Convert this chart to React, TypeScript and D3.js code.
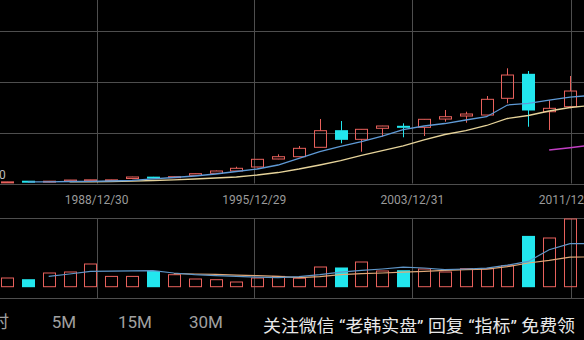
import React from "react";
import * as d3 from "d3";

// ---- data ----
const opens = [25, 45, 42, 45, 50, 60, 98, 125, 114, 161, 201, 246, 325, 482, 527, 712, 1039, 869, 1086, 1125, 1105, 1268, 1328, 1347, 1676, 2148, 1412, 1511];
const highs = [35, 48, 50, 70, 75, 76, 132, 130, 140, 198, 255, 330, 480, 574, 738, 1269, 1229, 1070, 1135, 1184, 1268, 1446, 1412, 1721, 2266, 2213, 1642, 2115];
const lows = [22, 38, 40, 42, 48, 56, 95, 112, 110, 158, 196, 240, 320, 478, 525, 708, 791, 625, 921, 909, 934, 1216, 1196, 1340, 1578, 1117, 1052, 1479];
const closes = [32, 40, 46, 68, 72, 72, 128, 118, 134, 193, 246, 299, 476, 527, 692, 1039, 869, 1066, 1131, 1110, 1263, 1314, 1367, 1656, 2134, 1446, 1479, 1819];
const volumes = [8.7, 7, 13.7, 14.7, 22.7, 10.3, 10.3, 15.3, 12, 7.7, 7, 4.7, 8.7, 10.3, 8.5, 19.7, 18.7, 24.7, 15.7, 16, 17.7, 14.7, 18, 18, 21, 50.3, 48.7, 67.7];

const maFast: (number | null)[] = [null, 30, 33, 39, 43, 49, 63, 89, 118, 148, 187, 236, 285, 364, 492, 626, 728, 826, 934, 1062, 1131, 1180, 1249, 1314, 1544, 1578, 1642, 1701, 1731];
const maSlow: (number | null)[] = [null, null, null, 30, 33, 39, 45, 59, 73, 89, 108, 128, 167, 216, 285, 364, 452, 551, 649, 738, 856, 964, 1042, 1141, 1279, 1338, 1426, 1495, 1538];
const maLong: (number | null)[] = [null, null, null, null, null, null, null, null, null, null, null, null, null, null, null, null, null, null, null, null, null, null, null, null, null, null, 659, 704, 753];

const volMaFast: (number | null)[] = [null, null, 10.3, 12.7, 15.3, 15.5, 15.8, 16, 13.7, 12, 11, 10.3, 9.5, 9, 10, 12, 14.5, 16.3, 17.7, 19.5, 18.7, 17, 17.7, 18.5, 21.5, 25.3, 37, 43, 43];
const volMaSlow: (number | null)[] = [null, null, null, null, null, null, null, null, 13, 12.7, 12.3, 11.5, 11, 10.3, 9, 10, 12, 13, 13.7, 14.5, 15.3, 16.3, 17, 17.5, 20, 23.7, 26.3, 29.5, 29.8];

const priceTicks = [0, 1000, 2000, 3000];
const dateLabels = ["1988/12/30", "1995/12/29", "2003/12/31", "2011/12/30"];
const dateGridPos = [4.3, 11.86, 19.44, 27.03];
const periodLabels = ["分时", "5M", "15M", "30M"];
const watermark = "关注微信 “老韩实盘” 回复 “指标” 免费领";

// ---- layout ----
const W = 584;
const H = 340;
const RED = "#e8615c";
const CYAN = "#22e6ee";
const GRID = "#4e4e4e";
const FONT = "Roboto, 'Noto Sans CJK SC', sans-serif";

export default function App() {
  const x = d3.scaleLinear().domain([0, 27]).range([7, 570]);
  const y = d3.scaleLinear().domain([0, 3000]).range([183.5, 31]);
  const yv = d3.scaleLinear().domain([0, 69]).range([286.7, 217.7]);
  const cw = 12;

  const line = (sc: d3.ScaleLinear<number, number>) =>
    d3
      .line<number | null>()
      .defined((d) => d !== null)
      .x((_, i) => x(i))
      .y((d) => sc(d as number));

  return (
    <div style={{ position: "fixed", left: 0, top: 0, width: W, height: H, background: "#000" }}>
      <svg width={W} height={H} style={{ display: "block", background: "#000" }} fontFamily={FONT}>
        {/* main grid */}
        {priceTicks.map((t) => (
          <line key={"h" + t} x1={0} x2={W} y1={Math.round(y(t)) + 0.5} y2={Math.round(y(t)) + 0.5} stroke={GRID} strokeWidth={1} />
        ))}
        {dateGridPos.map((p, i) => (
          <g key={"v" + i}>
            <line x1={Math.round(x(p)) + 0.5} x2={Math.round(x(p)) + 0.5} y1={0} y2={y(0)} stroke={GRID} />
            <line x1={Math.round(x(p)) + 0.5} x2={Math.round(x(p)) + 0.5} y1={218} y2={298} stroke={GRID} />
            <text x={x(p)} y={204} fill="#9a9a9a" fontSize={12} textAnchor="middle">
              {dateLabels[i]}
            </text>
          </g>
        ))}
        <text x={-1} y={179} fill="#bdbdbd" fontSize={12}>
          {priceTicks[0]}
        </text>
        {/* volume grid */}
        <line x1={0} x2={W} y1={218.5} y2={218.5} stroke={GRID} />
        <line x1={0} x2={W} y1={298.5} y2={298.5} stroke={GRID} />

        {/* candles */}
        {opens.map((o, i) => {
          const c = closes[i];
          const up = c >= o;
          const col = up ? RED : CYAN;
          const top = y(Math.max(o, c));
          const bot = y(Math.min(o, c));
          const cx = Math.round(x(i)) + 0.5;
          const hgt = Math.max(bot - top, 1);
          return (
            <g key={"c" + i}>
              <line x1={cx} x2={cx} y1={y(highs[i])} y2={top} stroke={col} />
              <line x1={cx} x2={cx} y1={top + hgt} y2={y(lows[i])} stroke={col} />
              {up ? (
                <rect x={cx - cw / 2} y={top} width={cw} height={hgt} fill="none" stroke={col} />
              ) : (
                <rect x={cx - cw / 2 - 0.5} y={top - 0.5} width={cw + 1} height={hgt + 1} fill={col} />
              )}
            </g>
          );
        })}
        <path d={line(y)(maSlow) || ""} fill="none" stroke="#e6d39a" strokeWidth={1.3} />
        <path d={line(y)(maFast) || ""} fill="none" stroke="#5f9ad6" strokeWidth={1.3} />
        <path d={line(y)(maLong) || ""} fill="none" stroke="#c23fc4" strokeWidth={1.5} />

        {/* volume */}
        {volumes.map((v, i) => {
          const up = closes[i] >= opens[i];
          const cx = Math.round(x(i)) + 0.5;
          const top = yv(v);
          const hgt = yv(0) - top;
          return up ? (
            <rect key={"v" + i} x={cx - cw / 2} y={top} width={cw} height={hgt} fill="none" stroke={RED} />
          ) : (
            <rect key={"v" + i} x={cx - cw / 2 - 0.5} y={top - 0.5} width={cw + 1} height={hgt + 1} fill={CYAN} />
          );
        })}
        <path d={line(yv)(volMaSlow) || ""} fill="none" stroke="#e0a878" strokeWidth={1.2} />
        <path d={line(yv)(volMaFast) || ""} fill="none" stroke="#5f96c8" strokeWidth={1.2} />

        {/* bottom bar */}
        <text x={9} y={328} fill="#a0a0a0" fontSize={17} textAnchor="end">
          {periodLabels[0]}
        </text>
        {periodLabels.slice(1).map((p, i) => (
          <text key={p} x={[64, 135, 206][i]} y={328} fill="#a0a0a0" fontSize={17} textAnchor="middle">
            {p}
          </text>
        ))}
        <text x={263} y={332} fill="#e8e8e8" fontSize={16.5} textLength={312} lengthAdjust="spacingAndGlyphs">
          {watermark}
        </text>
      </svg>
    </div>
  );
}
